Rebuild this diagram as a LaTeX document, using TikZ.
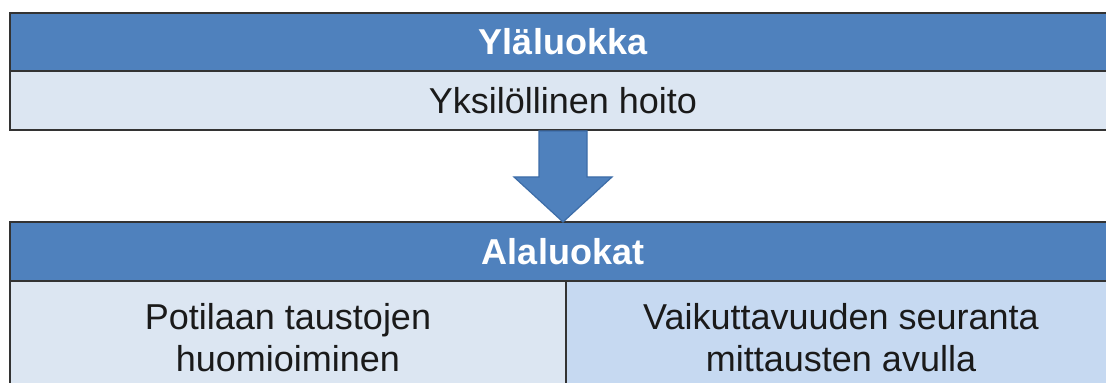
\documentclass[tikz,border=0pt]{standalone}
\usepackage{fontspec}
\setmainfont{Liberation Sans}
\usetikzlibrary{calc}
\definecolor{hdrblue}{HTML}{4F81BD}
\definecolor{paleblue}{HTML}{DCE6F2}
\definecolor{softblue}{HTML}{C6D9F1}
\definecolor{arrowedge}{HTML}{3D6DA8}
\definecolor{inktext}{HTML}{1A1A1A}

\begin{document}
\begin{tikzpicture}[x=0.5pt,y=-0.5pt,
  cell/.style={draw=black!80, line width=0.9pt, inner sep=0pt, outer sep=0pt,
    font=\fontsize{18}{21}\selectfont, text=inktext},
  header/.style={cell, fill=hdrblue, text=white,
    font=\fontsize{18}{21}\selectfont\bfseries},
  body/.style={cell, fill=paleblue},
  celltext/.style={align=center, inner sep=0pt, text=inktext,
    font=\fontsize{18}{21}\selectfont},
  bigarrow/.style={fill=hdrblue, draw=arrowedge, line width=0.6pt, line join=miter}
]
\useasboundingbox (0,0) rectangle (1106,383);
\clip (0,0) rectangle (1106,383);
\fill[white] (0,0) rectangle (1106,383);

% upper category
\node[header, minimum width=553pt, minimum height=29pt] (upper) at (563,42) {Yläluokka};
\node[body, minimum width=553pt, minimum height=29.5pt, anchor=north] (uppercell) at (upper.south) {Yksilöllinen hoito};

% lower categories
\node[header, minimum width=553pt, minimum height=29.5pt] (lower) at (563,251.5) {Alaluokat};
\node[body, minimum width=278pt, minimum height=70pt, anchor=north west] (leftcell) at (10,281) {};
\node[cell, fill=softblue, minimum width=275pt, minimum height=70pt, anchor=north west] (rightcell) at (566,281) {};
\node[celltext] (lefttext) at (288,338) {Potilaan taustojen\\huomioiminen};
\node[celltext] (righttext) at (841,338) {Vaikuttavuuden seuranta\\mittausten avulla};

% block arrow from the upper category down to the lower ones
\coordinate (shafttop) at ($(uppercell.south)+(0,1)$);
\draw[bigarrow] ($(shafttop)+(-24,0)$) -- ($(shafttop)+(-24,46)$) -- ($(shafttop)+(-49,46)$)
  -- (lower.north) -- ($(shafttop)+(49,46)$) -- ($(shafttop)+(24,46)$)
  -- ($(shafttop)+(24,0)$) -- cycle;
\end{tikzpicture}
\end{document}
